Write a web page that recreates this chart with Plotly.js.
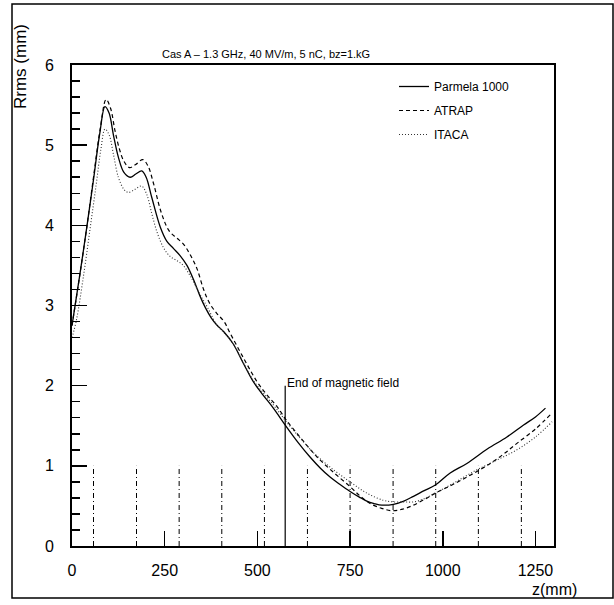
<!DOCTYPE html>
<html>
<head>
<meta charset="utf-8">
<script src="https://cdn.plot.ly/plotly-3.0.1.min.js"></script>
<style>html,body{margin:0;padding:0;background:#fff;}#chart{width:614px;height:605px;}</style>
</head>
<body>
<div id="chart"></div>
<script>
// Parmela 1000 (solid)
const parmelaZ = [0, 20, 40, 58, 75, 89, 100, 112, 125, 140, 157, 172, 188, 200, 215, 238, 256, 274, 292, 310, 328, 345, 360, 375, 390, 410, 435, 462, 489, 516, 543, 578, 610, 642, 670, 696, 722, 750, 775, 795, 815, 836, 867, 895, 921, 950, 980, 1020, 1065, 1120, 1173, 1218, 1250, 1277];
const parmelaR = [2.75, 3.35, 3.98, 4.57, 5.15, 5.48, 5.4, 5.12, 4.85, 4.66, 4.6, 4.64, 4.68, 4.6, 4.35, 3.98, 3.8, 3.71, 3.62, 3.5, 3.32, 3.12, 2.97, 2.85, 2.76, 2.67, 2.52, 2.28, 2.05, 1.88, 1.72, 1.49, 1.29, 1.11, 0.97, 0.86, 0.77, 0.68, 0.61, 0.56, 0.53, 0.51, 0.52, 0.56, 0.62, 0.69, 0.76, 0.91, 1.03, 1.21, 1.36, 1.51, 1.61, 1.72];
// ATRAP (dashed)
const atrapZ = [0, 20, 40, 58, 76, 92, 104, 116, 128, 140, 155, 172, 191, 205, 220, 240, 262, 283, 300, 318, 337, 355, 372, 391, 410, 427, 462, 499, 525, 553, 578, 620, 661, 705, 750, 778, 804, 835, 863, 892, 921, 950, 980, 1020, 1057, 1092, 1128, 1165, 1200, 1250, 1295];
const atrapR = [2.75, 3.35, 3.98, 4.6, 5.2, 5.57, 5.46, 5.18, 4.95, 4.8, 4.72, 4.76, 4.82, 4.74, 4.52, 4.17, 3.93, 3.84, 3.77, 3.64, 3.46, 3.2, 3.02, 2.9, 2.8, 2.65, 2.35, 2.05, 1.89, 1.74, 1.57, 1.33, 1.11, 0.92, 0.74, 0.62, 0.53, 0.47, 0.44, 0.46, 0.51, 0.58, 0.66, 0.75, 0.84, 0.93, 1.03, 1.15, 1.28, 1.46, 1.66];
// ITACA (dotted)
const itacaZ = [0, 12, 32, 50, 65, 78, 89, 100, 112, 125, 140, 152, 170, 188, 202, 215, 229, 247, 265, 283, 300, 320, 345, 365, 390, 410, 435, 462, 490, 525, 550, 578, 615, 650, 700, 750, 795, 840, 867, 895, 921, 950, 980, 1035, 1092, 1145, 1200, 1250, 1295];
const itacaR = [2.6, 2.82, 3.4, 4.0, 4.5, 4.95, 5.2, 5.13, 4.88, 4.6, 4.45, 4.41, 4.45, 4.49, 4.38, 4.15, 3.92, 3.72, 3.61, 3.56, 3.5, 3.36, 3.14, 2.98, 2.76, 2.66, 2.52, 2.29, 2.06, 1.86, 1.72, 1.55, 1.35, 1.17, 0.97, 0.8, 0.66, 0.57, 0.55, 0.55, 0.55, 0.59, 0.66, 0.8, 0.95, 1.07, 1.2, 1.36, 1.55];
// dash-dot markers (height 1)
const markerZ = [58, 174, 289, 404, 519, 635, 750, 866, 981, 1096, 1212];
const markerTop = 1;
// end of magnetic field
const fieldEndZ = 575;
const fieldEndTop = 2.0;
const fieldEndLabel = "End of magnetic field";
const xTicks = [0, 250, 500, 750, 1000, 1250];
const yTicks = [0, 1, 2, 3, 4, 5, 6];
const titleText = "Cas A \u2013 1.3 GHz, 40 MV/m, 5 nC, bz=1.kG";
const xTitle = "z(mm)";
const yTitle = "Rrms (mm)";
const seriesNames = ["Parmela 1000", "ATRAP", "ITACA"];

const FONT = "Liberation Sans, Arial, sans-serif";

const mx = [], my = [];
markerZ.forEach(z => { mx.push(z, z, null); my.push(0, markerTop, null); });

const traces = [
  {x: parmelaZ, y: parmelaR, name: seriesNames[0], mode: "lines", legendgroup: "a",
   line: {color: "#000", width: 1.3, dash: "solid", shape: "spline", smoothing: 1}},
  {x: atrapZ, y: atrapR, name: seriesNames[1], mode: "lines", legendgroup: "b",
   line: {color: "#000", width: 1.2, dash: "4px,3px", shape: "spline", smoothing: 1}},
  {x: itacaZ, y: itacaR, name: seriesNames[2], mode: "lines", legendgroup: "c",
   line: {color: "#333", width: 1.1, dash: "1px,2px", shape: "spline", smoothing: 1}},
  {x: mx, y: my, mode: "lines", showlegend: false, hoverinfo: "skip",
   line: {color: "#000", width: 1, dash: "5px,3px,1px,3px"}},
  {x: [fieldEndZ, fieldEndZ], y: [0, fieldEndTop], mode: "lines", showlegend: false, hoverinfo: "skip",
   line: {color: "#000", width: 1.2}}
];

const L = 72, R = 554, T = 65, B = 546, W = 614, H = 605;
const px = v => (v - L) / (R - L);
const py = v => (B - v) / (B - T);

const layout = {
  width: W, height: H,
  margin: {l: L, r: W - R, t: T, b: H - B, pad: 0},
  paper_bgcolor: "#fff", plot_bgcolor: "#fff",
  font: {family: FONT, color: "#000", size: 16},
  showlegend: true,
  legend: {x: px(394), y: py(72), xanchor: "left", yanchor: "top", traceorder: "grouped", tracegroupgap: 5,
           bgcolor: "rgba(0,0,0,0)", font: {size: 12, family: FONT}, borderwidth: 0},
  xaxis: {range: [0, 1300], tickvals: xTicks, ticktext: xTicks.map(String),
          ticks: "inside", ticklen: 15, tickwidth: 1.5, tickcolor: "#000",
          showline: true, linewidth: 2, linecolor: "#000", mirror: true,
          showgrid: false, zeroline: false, ticklabelstandoff: 9,
          tickfont: {size: 16, family: FONT}},
  yaxis: {range: [0, 6], tickvals: yTicks, ticktext: yTicks.map(String),
          ticks: "inside", ticklen: 15, tickwidth: 1.5, tickcolor: "#000",
          minor: {dtick: 0.2, ticks: "inside", ticklen: 8, tickwidth: 1.5, tickcolor: "#000", showgrid: false},
          showline: true, linewidth: 2, linecolor: "#000", mirror: true,
          showgrid: false, zeroline: false, ticklabelstandoff: 13,
          tickfont: {size: 16, family: FONT}},
  shapes: [
    {type: "rect", xref: "paper", yref: "paper", x0: px(12), x1: px(613), y0: py(598), y1: py(4),
     line: {color: "#000", width: 1.5}, fillcolor: "rgba(0,0,0,0)", layer: "below"}
  ],
  annotations: [
    {text: titleText, xref: "paper", yref: "paper", x: px(266), y: py(54), xanchor: "center", yanchor: "middle",
     showarrow: false, font: {size: 11, family: FONT}},
    {text: xTitle, xref: "paper", yref: "paper", x: px(579), y: py(589), xanchor: "right", yanchor: "middle",
     showarrow: false, font: {size: 16, family: FONT}},
    {text: yTitle, xref: "paper", yref: "paper", x: px(20), y: py(67), xanchor: "center", yanchor: "middle",
     textangle: -90, showarrow: false, font: {size: 17, family: FONT}},
    {text: fieldEndLabel, xref: "x", yref: "y", x: fieldEndZ, y: fieldEndTop, xanchor: "left", yanchor: "bottom",
     xshift: 0, yshift: -6, showarrow: false, font: {size: 12, family: FONT}}
  ]
};

Plotly.newPlot("chart", traces, layout, {staticPlot: true, displayModeBar: false});
</script>
</body>
</html>
